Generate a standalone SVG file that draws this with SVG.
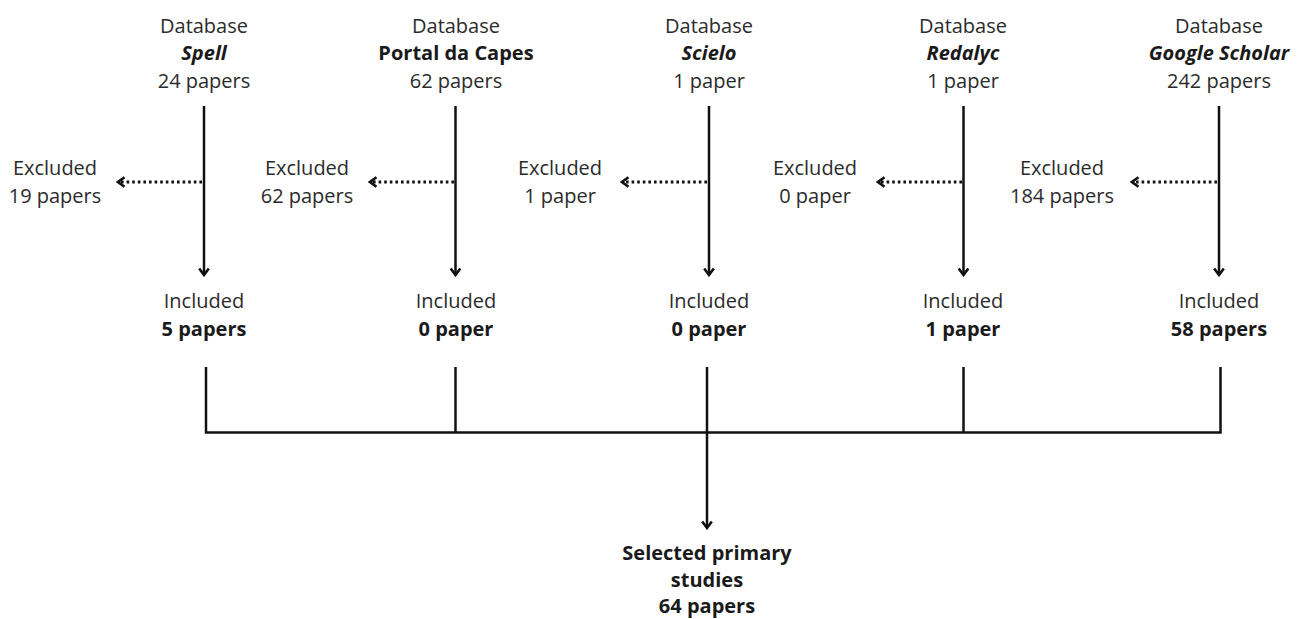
<svg xmlns="http://www.w3.org/2000/svg" width="1304" height="619" viewBox="0 0 1304 619">
<style>
text{font-family:"Open Sans","Noto Sans","Liberation Sans",sans-serif;font-size:20px;fill:#2b2b2b;text-anchor:middle}
.b{font-weight:bold;fill:#1a1a1a}
.bi{font-weight:bold;font-style:italic;fill:#1a1a1a}
.ln{stroke:#111;stroke-width:2.5;fill:none}
.dot{stroke:#111;stroke-width:2.8;fill:none;stroke-dasharray:2.6 3}
</style>
<defs>
<marker id="ah" viewBox="0 0 12 12" refX="10" refY="6" markerWidth="12" markerHeight="12" markerUnits="userSpaceOnUse" orient="auto">
<polyline points="3.5,1.2 10,6 3.5,10.8" fill="none" stroke="#111" stroke-width="2.6"/>
</marker>
</defs>
<rect width="1304" height="619" fill="#fff"/>
<g id="db-spell"><text x="204" y="33">Database</text><text class="bi" x="204" y="60">Spell</text><text x="204" y="88">24 papers</text></g>
<g id="db-capes"><text x="456" y="33">Database</text><text class="b" x="456" y="60">Portal da Capes</text><text x="456" y="88">62 papers</text></g>
<g id="db-scielo"><text x="709" y="33">Database</text><text class="bi" x="709" y="60">Scielo</text><text x="709" y="88">1 paper</text></g>
<g id="db-redalyc"><text x="963" y="33">Database</text><text class="bi" x="963" y="60">Redalyc</text><text x="963" y="88">1 paper</text></g>
<g id="db-google"><text x="1219" y="33">Database</text><text class="bi" x="1219" y="60">Google Scholar</text><text x="1219" y="88">242 papers</text></g>
<g id="ex-spell"><text x="55" y="175">Excluded</text><text x="55" y="203">19 papers</text></g>
<g id="ex-capes"><text x="307" y="175">Excluded</text><text x="307" y="203">62 papers</text></g>
<g id="ex-scielo"><text x="560" y="175">Excluded</text><text x="560" y="203">1 paper</text></g>
<g id="ex-redalyc"><text x="815" y="175">Excluded</text><text x="815" y="203">0 paper</text></g>
<g id="ex-google"><text x="1062" y="175">Excluded</text><text x="1062" y="203">184 papers</text></g>
<g id="in-spell"><text x="204" y="308">Included</text><text class="b" x="204" y="336">5 papers</text></g>
<g id="in-capes"><text x="456" y="308">Included</text><text class="b" x="456" y="336">0 paper</text></g>
<g id="in-scielo"><text x="709" y="308">Included</text><text class="b" x="709" y="336">0 paper</text></g>
<g id="in-redalyc"><text x="963" y="308">Included</text><text class="b" x="963" y="336">1 paper</text></g>
<g id="in-google"><text x="1219" y="308">Included</text><text class="b" x="1219" y="336">58 papers</text></g>
<g id="selected"><text class="b" x="707" y="560">Selected primary</text><text class="b" x="707" y="587">studies</text><text class="b" x="707" y="613">64 papers</text></g>
<g id="connectors">
<line class="ln" x1="204" y1="106" x2="204" y2="275" marker-end="url(#ah)"/>
<line class="ln" x1="455.5" y1="106" x2="455.5" y2="275" marker-end="url(#ah)"/>
<line class="ln" x1="709" y1="106" x2="709" y2="275" marker-end="url(#ah)"/>
<line class="ln" x1="963.5" y1="106" x2="963.5" y2="275" marker-end="url(#ah)"/>
<line class="ln" x1="1219" y1="106" x2="1219" y2="275" marker-end="url(#ah)"/>
<line class="dot" x1="202" y1="182" x2="118" y2="182" marker-end="url(#ah)"/>
<line class="dot" x1="454" y1="182" x2="370" y2="182" marker-end="url(#ah)"/>
<line class="dot" x1="707" y1="182" x2="622" y2="182" marker-end="url(#ah)"/>
<line class="dot" x1="962" y1="182" x2="878" y2="182" marker-end="url(#ah)"/>
<line class="dot" x1="1217" y1="182" x2="1132" y2="182" marker-end="url(#ah)"/>
<polyline class="ln" points="206,367 206,432.5 1220.5,432.5 1220.5,367"/>
<line class="ln" x1="455.5" y1="367" x2="455.5" y2="432.5"/>
<line class="ln" x1="963.5" y1="367" x2="963.5" y2="432.5"/>
<line class="ln" x1="707" y1="367" x2="707" y2="528" marker-end="url(#ah)"/>
</g>
</svg>
